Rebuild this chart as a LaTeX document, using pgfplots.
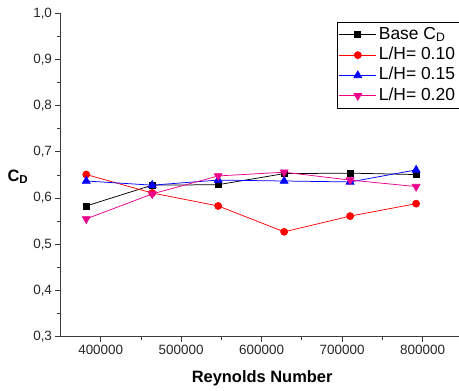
\documentclass[border=0pt]{standalone}
\usepackage{fontspec}
\setmainfont{Liberation Sans}
\usepackage{pgfplots}
\pgfplotsset{compat=1.18}
\definecolor{axgray}{RGB}{60,60,60}
\begin{document}
\begin{tikzpicture}
\begin{axis}[
  name=ax,
  scale only axis,
  width=398.5bp, height=323.4bp,
  xmin=350000, xmax=845300,
  ymin=0.3, ymax=1.0,
  axis x line=bottom, axis y line=left,
  axis line style={-, axgray, line width=1.1pt},
  tick style={axgray, line width=0.9pt},
  tick align=outside,
  major tick length=5bp, minor tick length=3bp,
  xtick={400000,500000,600000,700000,800000},
  ytick={0.3,0.4,0.5,0.6,0.7,0.8,0.9,1.0},
  minor x tick num=1, minor y tick num=1,
  scaled x ticks=false,
  x tick label style={/pgf/number format/.cd, fixed, precision=0, 1000 sep={}},
  y tick label style={/pgf/number format/.cd, use comma, fixed, fixed zerofill, precision=1},
  /pgf/number format/assume math mode=true,
  tick label style={font=\fontsize{13.5}{15}\selectfont, text=black!85},
  xlabel={\textbf{Reynolds Number}},
  xlabel style={font=\fontsize{16.5}{18}\selectfont, at={(rel axis cs:0.506,-0.128)}, anchor=center},
  ylabel={\textbf{C\textsubscript{D}}},
  ylabel style={font=\fontsize{16.5}{18}\selectfont, rotate=-90, at={(rel axis cs:-0.107,0.494)}, anchor=center},
  legend style={at={(rel axis cs:0.693,0.972)}, anchor=north west, draw=black, line width=0.6pt,
    row sep=0pt, inner sep=2pt,
    nodes={font=\fontsize{17.5}{18}\selectfont, inner sep=2.2pt, text depth=3.5pt, text height=12.5pt}},
  legend cell align=left,
  legend image code/.code={\draw[#1, line width=0.75pt] (0bp,0bp) -- (37bp,0bp); \draw[#1, mark repeat=2, mark phase=2] plot coordinates {(0bp,0bp) (18.5bp,0bp) (37bp,0bp)};},
]
\addplot[black, line width=0.75pt, mark=square*, mark size=3bp] coordinates {
(382000,0.583) (464000,0.628) (546000,0.629) (628000,0.653) (710000,0.654) (792000,0.651)};
\addlegendentry{Base C\textsubscript{D}}
\addplot[red, line width=0.75pt, mark=*, mark size=3.5bp] coordinates {
(382000,0.651) (464000,0.611) (546000,0.583) (628000,0.527) (710000,0.561) (792000,0.588)};
\addlegendentry{L/H= 0.10}
\addplot[blue, line width=0.75pt, mark=triangle*, mark size=4.5bp] coordinates {
(382000,0.637) (464000,0.628) (546000,0.639) (628000,0.637) (710000,0.635) (792000,0.661)};
\addlegendentry{L/H= 0.15}
\addplot[magenta, line width=0.75pt, mark=triangle*, mark options={rotate=180}, mark size=4.5bp] coordinates {
(382000,0.555) (464000,0.609) (546000,0.648) (628000,0.656) (710000,0.639) (792000,0.625)};
\addlegendentry{L/H= 0.20}
\end{axis}
\pgfresetboundingbox
\path (ax.south west) ++(-60.5bp,-54.3bp) rectangle ++(459bp,391bp);
\end{tikzpicture}
\end{document}
